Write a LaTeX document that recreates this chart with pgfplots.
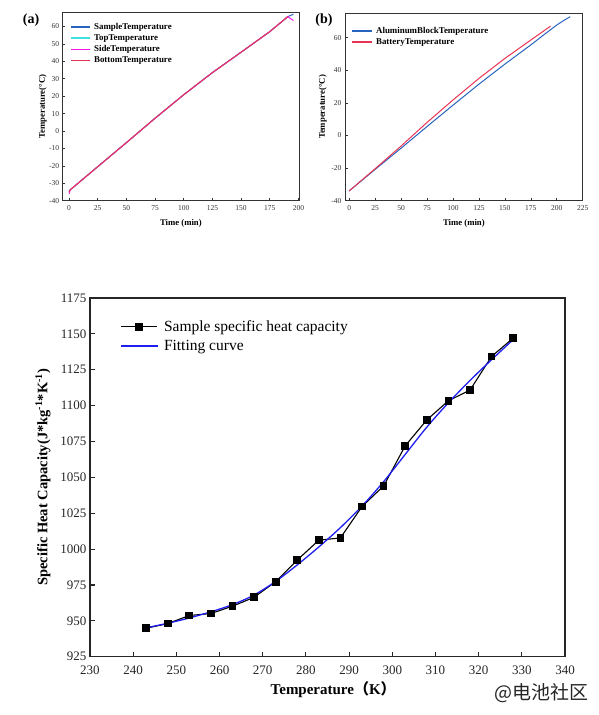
\documentclass[border=0pt]{standalone}
\usepackage{pgfplots}
\pgfplotsset{compat=1.18}
\usepackage{fontspec}
\setmainfont{Liberation Serif}
\newfontfamily\cjk{Noto Sans CJK SC}
\definecolor{aBlue}{RGB}{40,100,190}
\definecolor{aCyan}{RGB}{64,224,224}
\definecolor{aMag}{RGB}{245,20,235}
\definecolor{aRed}{RGB}{232,52,84}
\definecolor{fitBlue}{RGB}{30,30,240}
\pgfplotsset{
  topax/.style={
    scale only axis, anchor=south west,
    axis line style={line width=0.8pt, color=black!80},
    tick align=inside, tick pos=left, major tick length=2.5pt,
    major tick style={line width=0.6pt, color=black!80},
    ticklabel style={font=\fontsize{7.5}{8}\selectfont, color=black!80},
    /pgf/number format/assume math mode=true,
    xticklabel style={yshift=-1.5pt},
    legend style={draw=none, fill=none, inner sep=0pt, anchor=north west,
      font=\bfseries\fontsize{8.9}{9}\selectfont,
      nodes={inner xsep=1.65pt, inner ysep=1.85pt}, row sep=0pt},
    legend cell align=left,
    every axis plot/.append style={line width=1pt},
  }
}
\begin{document}
\begin{tikzpicture}
\useasboundingbox (0pt,0pt) rectangle (599pt,715pt);
% ---------------- panel (a)
\begin{axis}[topax, at={(62.7pt,514.3pt)}, width=236.3pt, height=188.2pt,
  xmin=-5.5, xmax=200.5, ymin=-40, ymax=68,
  xtick={0,25,...,200}, ytick={-40,-30,...,60},
  xlabel={Time (min)}, ylabel={Temperature(°C)},
  every axis x label/.style={at={(axis description cs:0.5,-0.1185)}, anchor=center, font=\bfseries\fontsize{8.7}{9}\selectfont},
  every axis y label/.style={at={(axis description cs:-0.0846,0.5)}, rotate=90, anchor=center, font=\bfseries\fontsize{8.7}{9}\selectfont},
  legend style={at={(axis description cs:0.0324,0.955)}},
  legend image code/.code={\draw[#1, line width=1.4pt] (0pt,0pt) -- (18.7pt,0pt); \path (20.7pt,0pt);}]
\addplot[aBlue] coordinates {(0,-34.5)(1,-33.8)(25,-20.5)(50,-6.7)(75,7.3)(100,20.8)(125,33.5)(150,45.2)(175,57)(190.7,65.6)(195.6,67)};
\addlegendentry{SampleTemperature}
\addplot[aCyan] coordinates {(0,-35.3)(1,-33.8)(25,-20.5)(50,-6.7)(75,7.3)(100,20.8)(125,33.5)(150,45.2)(175,57)(190.7,65.6)(191,65.6)};
\addlegendentry{TopTemperature}
\addplot[aMag] coordinates {(0,-36)(0.3,-35.5)(1,-33.8)(25,-20.5)(50,-6.7)(75,7.3)(100,20.8)(125,33.5)(150,45.2)(175,57)(190.7,65.6)(195.6,63.4)};
\addlegendentry{SideTemperature}
\addplot[aRed] coordinates {(0,-35)(1,-33.8)(25,-20.5)(50,-6.7)(75,7.3)(100,20.8)(125,33.5)(150,45.2)(175,57)(190.7,65.6)(191,65.6)};
\addlegendentry{BottomTemperature}
\end{axis}
% ---------------- panel (b)
\begin{axis}[topax, at={(345pt,514.3pt)}, width=237.7pt, height=187.4pt,
  xmin=-4, xmax=225, ymin=-40, ymax=75,
  xtick={0,25,...,225}, ytick={-40,-20,...,60},
  xlabel={Time (min)}, ylabel={Temperature(°C)},
  every axis x label/.style={at={(axis description cs:0.5,-0.119)}, anchor=center, font=\bfseries\fontsize{8.7}{9}\selectfont},
  every axis y label/.style={at={(axis description cs:-0.094,0.5)}, rotate=90, anchor=center, font=\bfseries\fontsize{8.7}{9}\selectfont},
  legend style={at={(axis description cs:0.0267,0.937)}},
  legend image code/.code={\draw[#1, line width=1.4pt] (0pt,0pt) -- (19.7pt,0pt); \path (21.7pt,0pt);}]
\addplot[aBlue] coordinates {(0,-34)(25,-20.8)(50,-7.8)(75,5.5)(100,18.6)(125,31.5)(150,43.8)(175,55.6)(190,63)(200,67.8)(207,70.7)(213,72.9)};
\addlegendentry{AluminumBlockTemperature}
\addplot[aRed] coordinates {(0,-34)(25,-20.4)(50,-6.5)(75,8)(100,21.8)(125,35)(150,47.3)(175,58.6)(194,67.1)};
\addlegendentry{BatteryTemperature}
\end{axis}
\node[font=\bfseries\fontsize{14}{14}\selectfont] at (31pt,695pt) {(a)};
\node[font=\bfseries\fontsize{14}{14}\selectfont] at (324pt,695pt) {(b)};
% ---------------- bottom panel
\begin{axis}[scale only axis, anchor=south west, at={(90pt,58.3pt)}, width=475pt, height=358.7pt,
  xmin=230, xmax=340, ymin=925, ymax=1175,
  xtick={230,240,...,340}, ytick={925,950,...,1175},
  axis line style={line width=1.3pt, color=black!85},
  tick align=inside, tick pos=left, major tick length=5pt,
  major tick style={line width=1.1pt, color=black!85},
  ticklabel style={font=\fontsize{13}{13}\selectfont, color=black!85},
  /pgf/number format/assume math mode=true, /pgf/number format/1000 sep={},
  xticklabel style={yshift=-6pt},
  xlabel={Temperature{\cjk （}K{\cjk ）}},
  ylabel={Specific Heat Capacity(J*kg\textsuperscript{-1}*K\textsuperscript{-1})},
  every axis x label/.style={at={(axis description cs:0.512,-0.093)}, anchor=center, font=\bfseries\fontsize{15}{15}\selectfont},
  every axis y label/.style={at={(axis description cs:-0.099,0.5)}, rotate=90, anchor=center, font=\bfseries\fontsize{14.5}{15}\selectfont},
  legend style={draw=none, fill=none, inner sep=0pt, anchor=north west,
    at={(axis description cs:0.0636,0.948)},
    font=\fontsize{15.5}{16}\selectfont,
    nodes={inner xsep=3pt, inner ysep=3.6pt}, row sep=0pt},
  legend cell align=left,
  legend image code/.code={\draw[mark repeat=2, mark phase=2, #1] plot coordinates {(0pt,0pt) (18.15pt,0pt) (36.3pt,0pt)}; \path (39.3pt,0pt);}]
\addplot[black, line width=1.1pt, mark=square*, mark size=3.3pt] coordinates {
(243,944.8)(248,948.1)(253,953.7)(258,955.1)(263,960.2)(268,966.4)(273,977.3)(278,992.4)(283,1006.2)(288,1007.8)(293,1029.7)(298,1044)(303,1072)(308,1090)(313,1103.4)(318,1110.8)(323,1134.3)(328,1147)};
\addlegendentry{Sample specific heat capacity}
\addplot[fitBlue, line width=1.3pt, smooth] coordinates {
(243,945.2)(248,948.3)(253,952)(258,956.3)(263,961.3)(268,968)(273,977.5)(278,989)(283,1001.5)(288,1015)(293,1030)(298,1047)(303,1066)(308,1085)(313,1102)(318,1117.5)(323,1132)(328,1146)};
\addlegendentry{Fitting curve}
\end{axis}
\node[anchor=east, font=\cjk\fontsize{19}{19}\selectfont, text=black!85] at (592pt,22pt) {@电池社区};
\end{tikzpicture}
\end{document}
